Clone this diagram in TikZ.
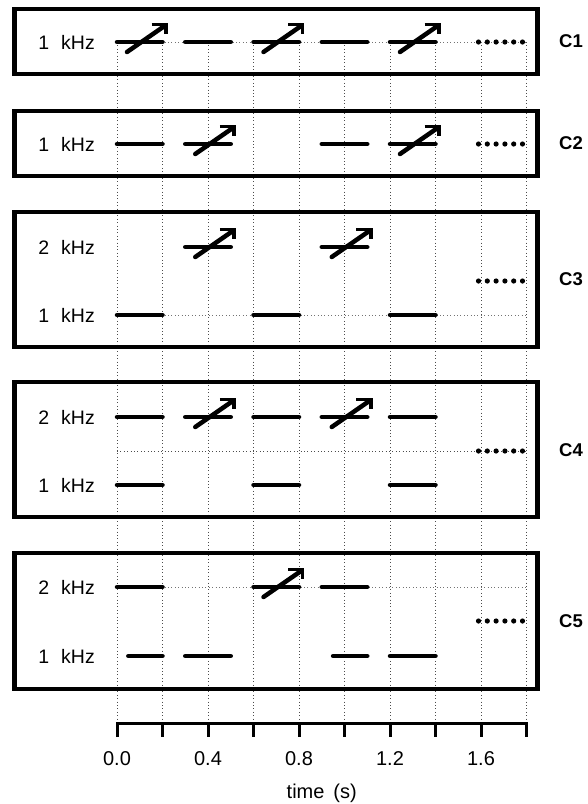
\documentclass[tikz,border=0pt]{standalone}
\usepackage{fontspec}
\setmainfont{Liberation Sans}
\newcommand\tseg[3]{\draw[thickseg] (#1,#3) -- (#2,#3);}
\newcommand\tsweep[3]{%
  \draw[thickseg] (#1,#3) -- (#2,#3);
  \draw[thickseg] ([xshift=10pt,yshift=-10pt]#1,#3) -- ([xshift=2pt,yshift=16pt]#2,#3);
  \draw[line width=3.8pt,line join=miter,line cap=butt] ([xshift=-11pt,yshift=17.5pt]#2,#3) -- ([xshift=3.5pt,yshift=17.5pt]#2,#3) -- ([xshift=3.5pt,yshift=8pt]#2,#3);}
\newcommand\tdots[1]{\foreach \k in {0,...,5}{\fill ([xshift=-2.5pt+\k*8.8pt]1.6,#1) circle (2.6pt);}}
\begin{document}
\begin{tikzpicture}[x=1pt,y=-1pt,
  frame/.style={line width=4.8pt},
  thickseg/.style={line width=4.5pt,line cap=round},
  griddot/.style={draw=black!70,line width=0.7pt,dash pattern=on 0.8pt off 2.6pt},
  hgriddot/.style={draw=black!55,line width=0.7pt,dash pattern=on 0.8pt off 2.6pt},
  freqlab/.style={anchor=east,font=\fontsize{19.5}{19.5}\selectfont,inner sep=0pt},
  condlab/.style={font=\bfseries\fontsize{18.5}{18.5}\selectfont,inner sep=0pt},
  ticklab/.style={font=\fontsize{20}{20}\selectfont,inner sep=0pt}]
\useasboundingbox (0,0) rectangle (587,804);

\begin{scope}[x=227.5pt, xshift=117pt]
  % vertical grid
  \foreach \t in {0,0.2,0.4,0.6,0.8,1.0,1.2,1.4,1.6,1.8}
    \draw[griddot] (\t,42) -- (\t,723);
  % horizontal grid
  \draw[hgriddot] (0,42) -- (1.8,42);
  \draw[hgriddot] (0,315) -- (1.8,315);
  \draw[griddot] (0,451) -- (1.8,451);
  \draw[hgriddot] (0,587) -- (1.8,587);

  % C1
  \tsweep{0}{0.2}{42} \tseg{0.3}{0.5}{42} \tsweep{0.6}{0.8}{42}
  \tseg{0.9}{1.1}{42} \tsweep{1.2}{1.4}{42} \tdots{42}
  % C2
  \tseg{0}{0.2}{144} \tsweep{0.3}{0.5}{144}
  \tseg{0.9}{1.1}{144} \tsweep{1.2}{1.4}{144} \tdots{144}
  % C3
  \tsweep{0.3}{0.5}{247} \tsweep{0.9}{1.1}{247}
  \tseg{0}{0.2}{315} \tseg{0.6}{0.8}{315} \tseg{1.2}{1.4}{315} \tdots{281}
  % C4
  \tseg{0}{0.2}{417} \tsweep{0.3}{0.5}{417} \tseg{0.6}{0.8}{417}
  \tsweep{0.9}{1.1}{417} \tseg{1.2}{1.4}{417}
  \tseg{0}{0.2}{485} \tseg{0.6}{0.8}{485} \tseg{1.2}{1.4}{485} \tdots{451}
  % C5
  \tseg{0}{0.2}{587} \tsweep{0.6}{0.8}{587} \tseg{0.9}{1.1}{587}
  \tseg{0.05}{0.2}{656} \tseg{0.3}{0.5}{656} \tseg{0.95}{1.1}{656} \tseg{1.2}{1.4}{656}
  \tdots{621}

  % axis
  \draw[line width=3pt,line join=miter] (0,737) -- (0,723) -- (1.8,723) -- (1.8,737);
  \foreach \t in {0.2,0.4,0.6,0.8,1.0,1.2,1.4,1.6}
    \draw[line width=3pt] (\t,723) -- (\t,737);
  \foreach \t/\l in {0/0.0,0.4/0.4,0.8/0.8,1.2/1.2,1.6/1.6}
    \node[ticklab] (tl\l) at (\t,759) {\l};
  \node[ticklab,font=\fontsize{20}{20}\selectfont] (xlabel) at (0.9,793) {time\hspace{9pt}(s)};
\end{scope}

% frames
\draw[frame] (14.5,9) rectangle (537.5,74);
\draw[frame] (14.5,111) rectangle (537.5,176);
\draw[frame] (14.5,212) rectangle (537.5,347);
\draw[frame] (14.5,382) rectangle (537.5,517);
\draw[frame] (14.5,553) rectangle (537.5,689);

% frequency labels
\node[freqlab] (f11) at (95,42) {1\hspace{12pt}kHz};
\node[freqlab] (f21) at (95,144) {1\hspace{12pt}kHz};
\node[freqlab] (f32) at (95,247) {2\hspace{12pt}kHz};
\node[freqlab] (f31) at (95,315) {1\hspace{12pt}kHz};
\node[freqlab] (f42) at (95,417) {2\hspace{12pt}kHz};
\node[freqlab] (f41) at (95,485) {1\hspace{12pt}kHz};
\node[freqlab] (f52) at (95,587) {2\hspace{12pt}kHz};
\node[freqlab] (f51) at (95,656) {1\hspace{12pt}kHz};

% condition labels
\node[condlab] (c1) at (571,41.5) {C1};
\node[condlab] (c2) at (571,143.5) {C2};
\node[condlab] (c3) at (571,279.5) {C3};
\node[condlab] (c4) at (571,450) {C4};
\node[condlab] (c5) at (571,621) {C5};
\end{tikzpicture}
\end{document}
